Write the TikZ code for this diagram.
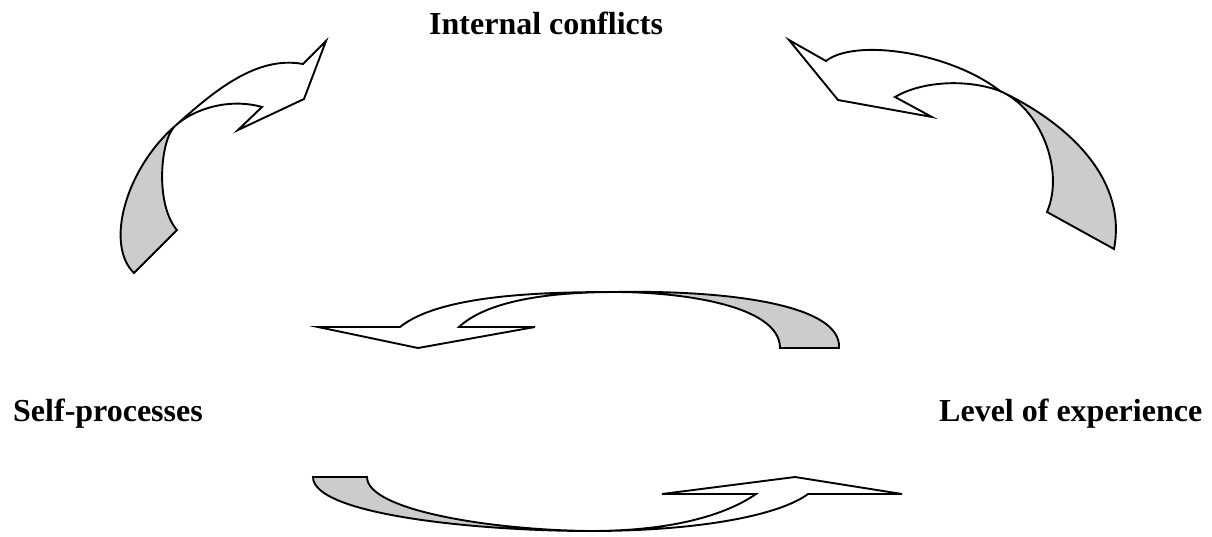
\documentclass[tikz,border=0pt]{standalone}
\usepackage{fontspec}
\setmainfont{Liberation Serif}
\begin{document}
\begin{tikzpicture}[x=1pt,y=-1pt,
  band/.style={draw=black,line width=1.9pt,line join=miter},
  whiteside/.style={band,fill=white},
  grayside/.style={band,fill=black!20},
  lbl/.style={font=\fontsize{32}{38}\selectfont\bfseries,inner sep=0pt,anchor=base west}]
\useasboundingbox (0,0) rectangle (1212,536);

% top-left arrow
\draw[grayside] (134,273) .. controls (105,245) and (125,170) .. (175,126)
  .. controls (160,140) and (155,205) .. (177,230) -- cycle;
\draw[whiteside] (175,126) .. controls (211,94) and (255,55) .. (303,64)
  -- (326,41) -- (304,99) -- (238,130) -- (262,107)
  .. controls (230,98) and (195,108) .. (175,126) -- cycle;

% top-right arrow
\draw[grayside] (1000,91) .. controls (1062,120) and (1128,175) .. (1114,249)
  -- (1047,212) .. controls (1065,170) and (1040,108) .. (1000,91) -- cycle;
\draw[whiteside] (1000,91) .. controls (950,52) and (855,38) .. (826,61)
  -- (789,40) -- (838,100) -- (932,117) -- (895,97)
  .. controls (920,82) and (965,78) .. (1000,91) -- cycle;

% middle upper arrow (pointing left)
\draw[grayside] (615,292) .. controls (730,290) and (842,305) .. (839,348)
  -- (780,348) .. controls (780,305) and (680,292) .. (615,292) -- cycle;
\draw[whiteside] (459,327) .. controls (490,298) and (560,292) .. (615,292)
  .. controls (540,292) and (440,295) .. (400,327)
  -- (318,327) -- (418,348) -- (535,327) -- cycle;

% bottom arrow (pointing right)
\draw[grayside] (313,477) .. controls (313,515) and (480,531) .. (590,531)
  .. controls (490,530) and (367,510) .. (367,477) -- cycle;
\draw[whiteside] (590,531) .. controls (700,531) and (780,515) .. (808,494)
  -- (902,494) -- (795,477) -- (662,494) -- (756,494)
  .. controls (730,512) and (680,531) .. (590,531) -- cycle;

\node[lbl] (ic) at (429,34) {Internal conflicts};
\node[lbl] (sp) at (13,421) {Self-processes};
\node[lbl] (le) at (939,421) {Level of experience};
\end{tikzpicture}
\end{document}
